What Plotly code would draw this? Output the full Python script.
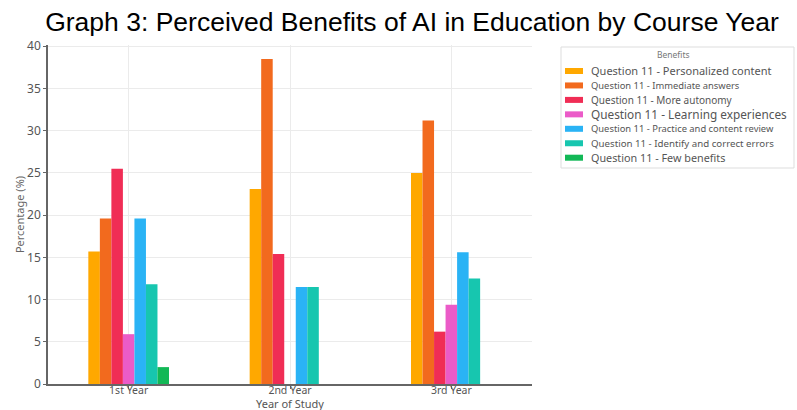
import plotly.graph_objects as go

# Survey results: share of respondents (%) naming each benefit, by course year
years = ["1st Year", "2nd Year", "3rd Year"]
benefits = [
    "Question 11 - Personalized content",
    "Question 11 - Immediate answers",
    "Question 11 - More autonomy",
    "Question 11 - Learning experiences",
    "Question 11 - Practice and content review",
    "Question 11 - Identify and correct errors",
    "Question 11 - Few benefits",
]
personalized = [15.7, 23.1, 25.0]
immediate = [19.6, 38.5, 31.2]
autonomy = [25.5, 15.4, 6.2]
learning = [5.9, 0.0, 9.4]
practice = [19.6, 11.5, 15.6]
errors = [11.8, 11.5, 12.5]
few = [2.0, 0.0, 0.0]

series = [personalized, immediate, autonomy, learning, practice, errors, few]
colors = ["#FFA800", "#F26A1E", "#F02D55", "#EB5BC8", "#2AB3F5", "#17C6AF", "#12B856"]
legend_sizes = [11, 9.4, 10, 11.8, 9.4, 9.7, 10.8]

W, H = 797, 410
M_L, M_R, M_T, M_B = 48, 265, 45, 26
PW, PH = W - M_L - M_R, H - M_T - M_B


def px_x(x):
    """Pixel x -> paper x."""
    return (x - M_L) / PW


def px_y(y):
    """Pixel y (from top) -> paper y."""
    return (H - M_B - y) / PH


fig = go.Figure()
for name, vals, col in zip(benefits, series, colors):
    fig.add_trace(go.Bar(
        x=years, y=vals, name=name, showlegend=False,
        marker=dict(color=col, line=dict(width=0)),
    ))

# Compact legend box: border, title, colour swatches and labels
shapes = [dict(
    type="rect", xref="paper", yref="paper",
    x0=px_x(561), x1=px_x(794), y0=px_y(168), y1=px_y(47),
    line=dict(color="#DDDDDD", width=1), fillcolor="white", layer="below",
)]
annotations = [dict(
    text="Benefits", xref="paper", yref="paper",
    x=px_x(673), y=px_y(55), xanchor="center", yanchor="middle",
    showarrow=False, font=dict(family="Noto Sans", size=8.5, color="#777"),
)]
row0, row_step = 71, 14.45
for i, (name, col, fs) in enumerate(zip(benefits, colors, legend_sizes)):
    yc = row0 + i * row_step
    shapes.append(dict(
        type="rect", xref="paper", yref="paper",
        x0=px_x(565), x1=px_x(583), y0=px_y(yc + 3), y1=px_y(yc - 3),
        line=dict(width=0), fillcolor=col,
    ))
    annotations.append(dict(
        text=name, xref="paper", yref="paper",
        x=px_x(589), y=px_y(yc), xanchor="left", yanchor="middle",
        showarrow=False, font=dict(family="Noto Sans", size=fs, color="#555"),
    ))

# x-axis title sits just under the tick labels
annotations.append(dict(
    text="Year of Study", xref="paper", yref="paper",
    x=0.5, y=px_y(403.5), xanchor="center", yanchor="middle",
    showarrow=False, font=dict(family="Noto Sans", size=11, color="#555"),
))

fig.update_layout(
    width=W, height=H,
    margin=dict(l=M_L, r=M_R, t=M_T, b=M_B),
    paper_bgcolor="white", plot_bgcolor="white",
    barmode="group", bargap=0.5, bargroupgap=0,
    font=dict(family="Noto Sans", color="#555"),
    showlegend=False,
    title=dict(
        text="Graph 3: Perceived Benefits of AI in Education by Course Year",
        font=dict(family="Liberation Sans, Arial", size=26.5, color="#000"),
        x=412 / W, xref="container", xanchor="center",
        y=1 - 12 / H, yref="container", yanchor="top",
    ),
    shapes=shapes,
    annotations=annotations,
    xaxis=dict(
        range=[-0.5, 2.5], showgrid=True, gridcolor="#EBEBEB", gridwidth=1,
        showline=True, linecolor="#666", linewidth=1.5,
        ticks="outside", ticklen=3, tickcolor="#666",
        tickfont=dict(size=10.5, color="#555"), ticklabelstandoff=-7,
        automargin=False,
    ),
    yaxis=dict(
        range=[0, 40.15], tickvals=[0, 5, 10, 15, 20, 25, 30, 35, 40],
        showgrid=True, gridcolor="#EBEBEB", gridwidth=1,
        showline=True, linecolor="#666", linewidth=1.5, zeroline=False,
        ticks="outside", ticklen=3, tickcolor="#666",
        tickfont=dict(size=12, color="#555"),
        title=dict(text="Percentage (%)", font=dict(size=11, color="#666"), standoff=0),
        automargin=False,
    ),
)

fig.write_html("out.html")
